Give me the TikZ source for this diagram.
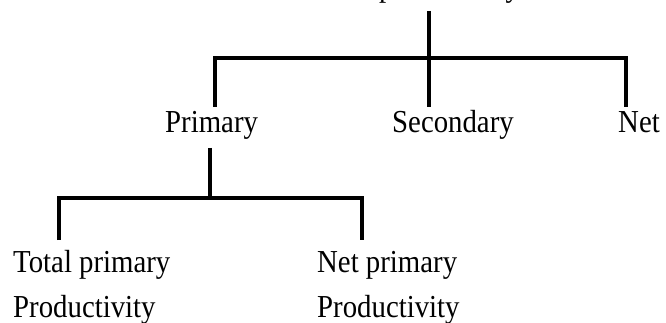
\documentclass[tikz,border=0pt]{standalone}
\usepackage{fontspec}
\setmainfont{Liberation Serif}[FakeStretch=0.9]
\begin{document}
\begin{tikzpicture}[x=1pt,y=-1pt,
  lbl/.style={anchor=base west,inner sep=0pt,font=\fontsize{32}{45}\selectfont},
  conn/.style={line width=3.2pt,line join=miter}]
\useasboundingbox (0,0) rectangle (666,323);
% labels
\node[lbl] (root) at (379,-3) {productivity};
\node[lbl] (prim) at (165,133) {Primary};
\node[lbl] (sec) at (392,133) {Secondary};
\node[lbl] (net) at (618,133) {Net};
\node[lbl] (tot) at (13,272) {Total primary};
\node[lbl] (tot2) at (13,317) {Productivity};
\node[lbl] (np) at (317,272) {Net primary};
\node[lbl] (np2) at (317,317) {Productivity};
% junction coordinates
\coordinate (rootb) at (429,11);
\coordinate (j1) at (429,58);
\coordinate (primt) at (215,107);
\coordinate (sect) at (429,107);
\coordinate (nett) at (626,107);
\coordinate (primb) at (210,148);
\coordinate (j2) at (210,198);
\coordinate (tott) at (59,240);
\coordinate (npt) at (362,240);
% connectors
\draw[conn] (rootb) -- (sect);
\draw[conn] (primt) |- (j1) -| (nett);
\draw[conn] (primb) -- (j2);
\draw[conn] (tott) |- (j2) -| (npt);
\end{tikzpicture}
\end{document}
